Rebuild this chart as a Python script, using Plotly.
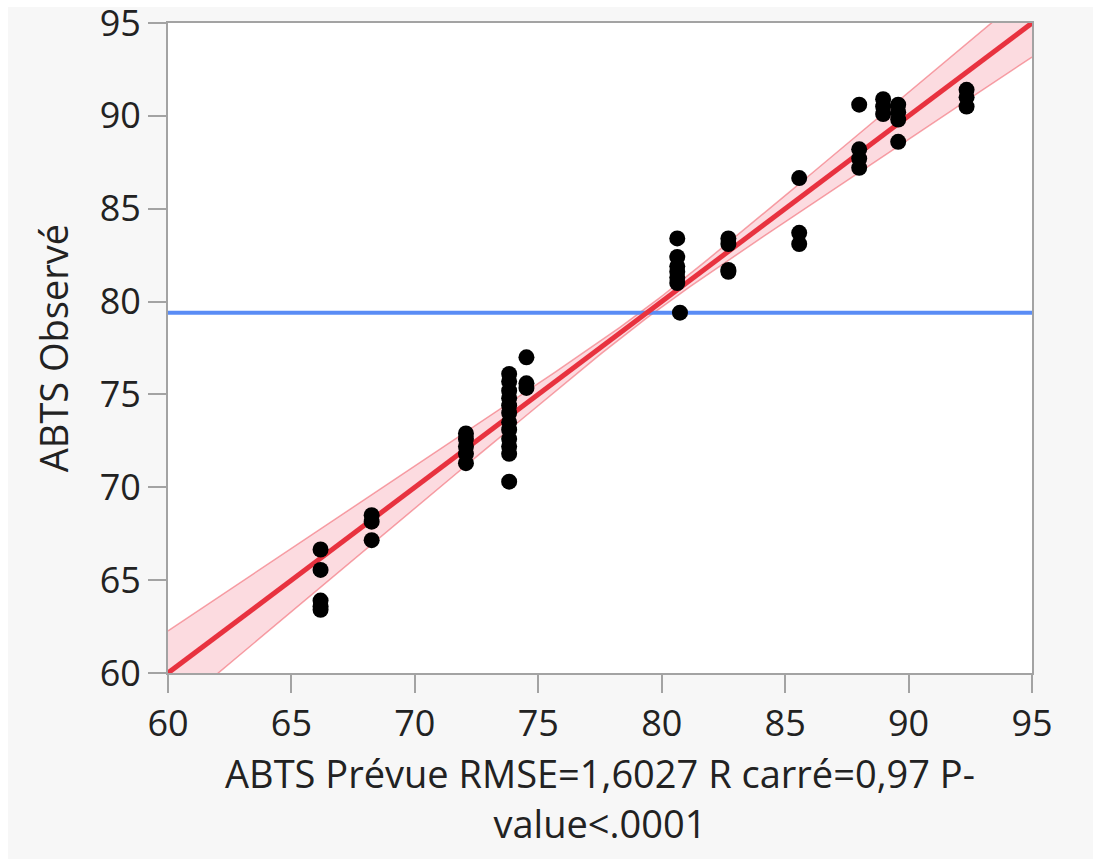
import numpy as np
import plotly.graph_objects as go

# ABTS: predicted vs observed values
abts_predicted = (
    [66.18] * 5 + [68.25] * 3 + [72.07] * 5 + [73.82] * 12 + [74.52] * 3
    + [80.63] * 6 + [80.74] + [82.70] * 4 + [85.57] * 3 + [88.00] * 4
    + [88.97] * 3 + [89.58] * 4 + [92.35] * 3
)
abts_observed = [
    66.65, 65.55, 63.90, 63.60, 63.40,
    68.50, 68.15, 67.15,
    72.90, 72.60, 72.20, 71.80, 71.30,
    76.10, 75.70, 75.20, 74.80, 74.40, 74.00, 73.50, 73.10, 72.60, 72.20, 71.80, 70.30,
    77.00, 75.60, 75.35,
    83.40, 82.40, 81.90, 81.60, 81.30, 81.00,
    79.40,
    83.40, 83.10, 81.70, 81.60,
    86.65, 83.70, 83.10,
    90.60, 88.20, 87.70, 87.20,
    90.90, 90.50, 90.10,
    90.60, 90.20, 89.80, 88.60,
    91.40, 91.00, 90.50,
]

mean_observed = 79.4          # horizontal reference line (mean of Y)
axis_range = [60, 95]
axis_ticks = [60, 65, 70, 75, 80, 85, 90, 95]

# confidence curves around the fit line: hyperbola about the mean
band_hw_center = 0.28
band_hw_slope = 0.116

fit_x = np.linspace(axis_range[0], axis_range[1], 200)
fit_y = fit_x
half = np.sqrt(band_hw_center ** 2 + (band_hw_slope * (fit_x - mean_observed)) ** 2)
upper = fit_y + half
lower = fit_y - half

FONT = "Open Sans, Noto Sans, sans-serif"
TXT = "#222222"
AX = "#a3a3a3"

W, H = 1093, 859
ML, MR, MT, MB = 168, 61, 23, 186
PW, PH = W - ML - MR, H - MT - MB

fig = go.Figure()

fig.add_trace(go.Scatter(
    x=fit_x, y=lower, mode="lines",
    line=dict(color="rgba(240,90,100,0.55)", width=1.5),
    hoverinfo="skip", showlegend=False,
))
fig.add_trace(go.Scatter(
    x=fit_x, y=upper, mode="lines", fill="tonexty",
    fillcolor="rgba(250,190,198,0.55)",
    line=dict(color="rgba(240,90,100,0.55)", width=1.5),
    hoverinfo="skip", showlegend=False,
))
fig.add_trace(go.Scatter(
    x=axis_range, y=[mean_observed, mean_observed], mode="lines",
    line=dict(color="#5a8cf5", width=4),
    hoverinfo="skip", showlegend=False,
))
fig.add_trace(go.Scatter(
    x=fit_x, y=fit_y, mode="lines",
    line=dict(color="#e8323f", width=5),
    hoverinfo="skip", showlegend=False,
))
fig.add_trace(go.Scatter(
    x=abts_predicted, y=abts_observed, mode="markers",
    marker=dict(color="black", size=16, line=dict(width=0)),
    showlegend=False,
))

axis_common = dict(
    range=axis_range, tickvals=axis_ticks, showgrid=False, zeroline=False,
    showline=True, linecolor=AX, linewidth=2, mirror=True,
    ticks="outside", ticklen=18, tickwidth=2, tickcolor=AX,
    tickfont=dict(family=FONT, size=36, color=TXT),
    ticklabeloverflow="allow", automargin=False,
)

# thin white frame along the top and left edges of the page
def px_x(p):
    return (p - ML) / PW

def px_y(p):
    return (H - MB - p) / PH

frame = [
    dict(type="rect", xref="paper", yref="paper", x0=px_x(0), x1=px_x(W),
         y0=px_y(7), y1=px_y(0), fillcolor="white", line=dict(width=0), layer="below"),
    dict(type="rect", xref="paper", yref="paper", x0=px_x(0), x1=px_x(8),
         y0=px_y(H), y1=px_y(0), fillcolor="white", line=dict(width=0), layer="below"),
]

fig.update_layout(
    width=W, height=H,
    margin=dict(l=ML, r=MR, t=MT, b=MB, autoexpand=False),
    paper_bgcolor="#f7f7f7", plot_bgcolor="white",
    font=dict(family=FONT, color=TXT),
    shapes=frame,
    xaxis=dict(
        **axis_common,
        title=dict(text="ABTS Prévue RMSE=1,6027 R carré=0,97 P-<br>value<.0001",
                   font=dict(family=FONT, size=38, color=TXT), standoff=14),
    ),
    yaxis=dict(
        **axis_common,
        title=dict(text="ABTS Observé", font=dict(family=FONT, size=38, color=TXT), standoff=19),
    ),
)

fig.write_html("out.html")
